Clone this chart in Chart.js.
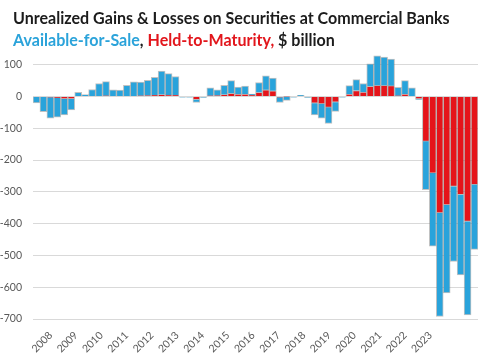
<!DOCTYPE html>
<html><head><meta charset="utf-8">
<script src="https://cdn.jsdelivr.net/npm/chart.js"></script>
<style>
html,body{margin:0;padding:0;background:#fff;width:485px;height:360px;overflow:hidden}
#wrap{position:relative;width:485px;height:360px}
canvas{position:absolute;left:0;top:0}
.t{position:absolute;left:13px;font-family:Lato,'Open Sans',sans-serif;font-weight:bold;white-space:nowrap;color:#1c1c1c;line-height:18px;font-size:15px}
</style></head>
<body>
<div id="wrap">
<canvas id="c" width="485" height="360"></canvas>
<div class="t" id="t1" style="top:9px">Unrealized Gains &amp; Losses on Securities at Commercial Banks</div>
<div class="t" id="t2" style="top:31px"><span style="color:#2ba3da">Available-for-Sale</span>, <span style="color:#e2161c">Held-to-Maturity,</span> $ billion</div>
</div>
<script>
// ---- data ----
const years = [2008,2009,2010,2011,2012,2013,2014,2015,2016,2017,2018,2019,2020,2021,2022,2023];
const categories = [];
years.forEach(y => { for (let q = 1; q <= 4; q++) categories.push(y + 'Q' + q); });
// Held-to-Maturity unrealized gains/losses, $ billion
const htm = [
  0, 0, -2, -4, -8, -8, 0, 0,
  0, 0, 2, 0, 0, 0, 0, 2,
  3, 4, 6, 5, 4, 0, 0, -10,
  0, 2, 3, 6, 10, 8, 8, 4,
  13, 21, 18, -2, -1, 0, 0, 0,
  -21, -23, -34, -18, 0, 8, 19, 14,
  32, 35, 35, 34, 2, 8, 0, -8,
  -141, -241, -366, -341, -283, -309, -393, -277
];
// Available-for-Sale unrealized gains/losses, $ billion
const afs = [
  -20, -48, -66, -61, -50, -34, 13, 6,
  22, 41, 45, 21, 20, 35, 46, 43,
  48, 56, 74, 67, 59, -2, -2, -9,
  -3, 25, 18, 29, 40, 22, 25, 4,
  31, 44, 40, -17, -11, -2, 4, -3,
  -37, -45, -51, -29, -2, 26, 34, 27,
  71, 93, 89, 84, 27, 42, 27, -1,
  -152, -230, -326, -277, -236, -252, -294, -204
];
const yTicks = [100, 0, -100, -200, -300, -400, -500, -600, -700];

// ---- title fitting ----
(function(){
  const t1 = document.getElementById('t1'), t2 = document.getElementById('t2');
  const w = t1.getBoundingClientRect().width;
  const fs = 15 * 437 / w;
  t1.style.fontSize = fs + 'px'; t2.style.fontSize = fs + 'px';
})();

const BLUE = '#29a3db', RED = '#e5141a';
const tickFont = {family: "Lato, 'Open Sans', sans-serif", size: 10.5};

new Chart(document.getElementById('c'), {
  type: 'bar',
  data: {
    labels: categories,
    datasets: [
      {label: 'Held-to-Maturity', data: htm, backgroundColor: RED, borderColor: 'rgba(120,120,120,0.45)', borderWidth: 1, xAxisID: 'x', yAxisID: 'y', categoryPercentage: 1, barPercentage: 1},
      {label: 'Available-for-Sale', data: afs, backgroundColor: BLUE, borderColor: 'rgba(120,120,120,0.45)', borderWidth: 1, xAxisID: 'x', yAxisID: 'y', categoryPercentage: 1, barPercentage: 1}
    ]
  },
  options: {
    responsive: false,
    animation: false,
    layout: {padding: {top: 52, right: 7, left: 0, bottom: 0}},
    plugins: {legend: {display: false}, tooltip: {enabled: false}, title: {display: false}},
    scales: {
      x: {type: 'category', stacked: true, display: false, offset: true},
      xYears: {
        type: 'linear', position: 'bottom',
        min: 2007.85, max: 2024.33,
        afterBuildTicks: s => { s.ticks = years.map(v => ({value: v})); },
        afterFit: s => { s.height = 41; },
        ticks: {minRotation: 45, maxRotation: 45, autoSkip: false, padding: 2, color: '#595959', font: tickFont, callback: v => String(v)},
        grid: {display: false}, border: {display: false}
      },
      y: {
        stacked: true, min: -700, max: 140,
        afterBuildTicks: s => { s.ticks = yTicks.map(v => ({value: v})); },
        afterFit: s => { s.width = 33; },
        ticks: {padding: 11, color: '#595959', font: tickFont, callback: v => String(v)},
        grid: {color: '#d9d9d9', drawTicks: false},
        border: {display: false}
      }
    }
  }
});
</script>
</body></html>
